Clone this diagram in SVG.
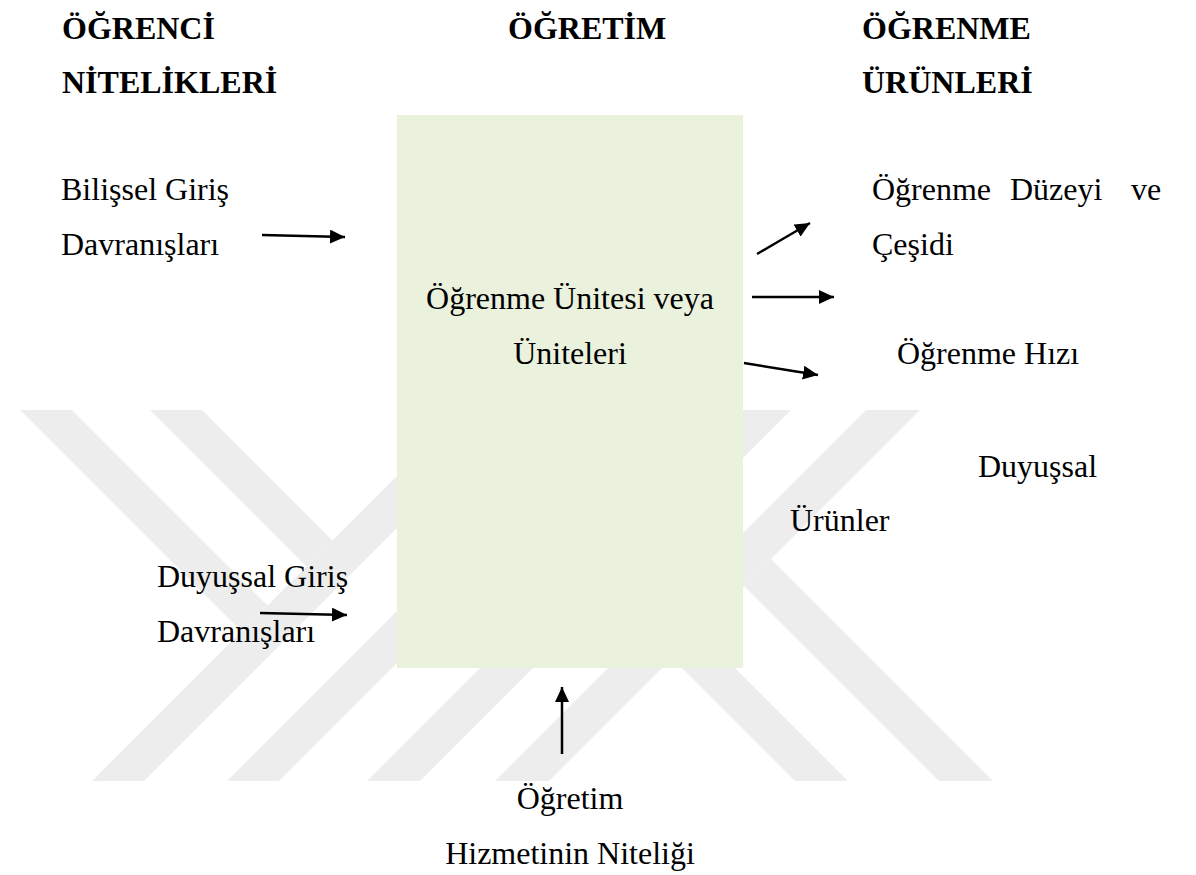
<svg xmlns="http://www.w3.org/2000/svg" width="1196" height="875" viewBox="0 0 1196 875">
  <defs>
    <marker id="head" markerUnits="userSpaceOnUse" markerWidth="16" markerHeight="14" refX="15" refY="7" orient="auto">
      <path d="M0,0 L15,7 L0,14 Z" fill="#000"/>
    </marker>
    <style>
      text { font-family: "Liberation Serif", "Times New Roman", serif; font-size: 32px; fill: #000; }
      .hd { font-weight: bold; }
      .band { fill: #ededed; }
      .arrow { stroke: #000; stroke-width: 2.5; fill: none; marker-end: url(#head); }
    </style>
  </defs>

  <rect width="1196" height="875" fill="#fff"/>

  <!-- background mark: diagonal bands -->
  <g id="watermark">
    <polygon class="band" points="92,781 144,781 515,410 463,410"/>
    <polygon class="band" points="227,781 279,781 650,410 598,410"/>
    <polygon class="band" points="367,781 420,781 791,410 738,410"/>
    <polygon class="band" points="495,781 549,781 920,410 866,410"/>
    <polygon class="band" points="20,410 72,410 267.5,605.5 241.5,631.5"/>
    <polygon class="band" points="150,410 202,410 332.5,540.5 306.5,566.5"/>
    <polygon class="band" points="771,559 993,781 939,781 744,586"/>
    <polygon class="band" points="634,567 848,781 795,781 607.5,593.5"/>
  </g>

  <!-- column headings -->
  <g id="col-ogrenci">
    <text class="hd" x="62" y="39">ÖĞRENCİ</text>
    <text class="hd" x="62" y="93">NİTELİKLERİ</text>
  </g>
  <g id="col-ogretim">
    <text class="hd" x="508" y="39">ÖĞRETİM</text>
  </g>
  <g id="col-urunler">
    <text class="hd" x="862" y="39">ÖĞRENME</text>
    <text class="hd" x="862" y="93">ÜRÜNLERİ</text>
  </g>

  <!-- central learning unit -->
  <g id="unit">
    <rect x="397" y="115" width="346" height="553" fill="#eaf1dd"/>
    <text x="570" y="309" text-anchor="middle">Öğrenme Ünitesi veya</text>
    <text x="570" y="364" text-anchor="middle">Üniteleri</text>
  </g>

  <!-- inputs -->
  <g id="in-bilissel">
    <text x="61" y="200">Bilişsel Giriş</text>
    <text x="61" y="255">Davranışları</text>
  </g>
  <g id="in-duyussal">
    <text x="157" y="587">Duyuşsal Giriş</text>
    <text x="157" y="642">Davranışları</text>
  </g>
  <g id="in-hizmet">
    <text x="570" y="809" text-anchor="middle">Öğretim</text>
    <text x="570" y="864" text-anchor="middle">Hizmetinin Niteliği</text>
  </g>

  <!-- outputs -->
  <g id="out-duzey">
    <text x="872" y="200">Öğrenme</text>
    <text x="1010" y="200">Düzeyi</text>
    <text x="1131" y="200">ve</text>
    <text x="872" y="255">Çeşidi</text>
  </g>
  <g id="out-hiz">
    <text x="897" y="364">Öğrenme Hızı</text>
  </g>
  <g id="out-duyussal">
    <text x="978" y="477">Duyuşsal</text>
    <text x="790" y="531">Ürünler</text>
  </g>

  <g id="connectors">
    <line class="arrow" x1="262" y1="235" x2="345" y2="237"/>
    <line class="arrow" x1="260" y1="613" x2="347" y2="615"/>
    <line class="arrow" x1="562" y1="754" x2="562" y2="687"/>
    <line class="arrow" x1="757" y1="254" x2="810" y2="223"/>
    <line class="arrow" x1="752" y1="297" x2="834" y2="297"/>
    <line class="arrow" x1="744" y1="363" x2="818" y2="375"/>
  </g>
</svg>
